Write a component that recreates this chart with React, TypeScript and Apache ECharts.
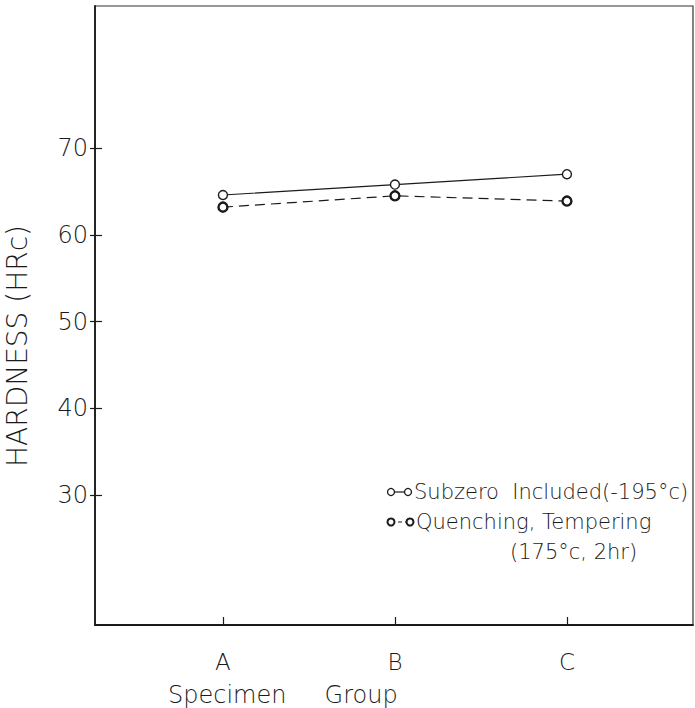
import React, { useEffect, useRef } from "react";
import * as echarts from "echarts";

// ---- data ----
const categories = ["A", "B", "C"];
const subzeroValues = [64.6, 65.8, 67.0];
const quenchingValues = [63.2, 64.5, 63.9];
const yTickValues = [30, 40, 50, 60, 70];
const seriesNames = ["Subzero  Included(-195°c)", "Quenching, Tempering"];
const legendSubLine = "(175°c, 2hr)";
const yAxisTitle = "HARDNESS (HRc)";
const xAxisTitle = "Specimen     Group";

const FONT = "DejaVu Sans";
const INK = "#1a1a1a";

export default function App() {
  const ref = useRef<HTMLDivElement>(null);

  useEffect(() => {
    if (!ref.current) return;
    const chart = echarts.init(ref.current, undefined, { renderer: "svg" });
    const xIdx = categories.map((_, i) => i);

    const option: any = {
      animation: false,
      backgroundColor: "#ffffff",
      textStyle: { fontFamily: FONT, color: INK },
      grid: {
        left: 95,
        right: 2,
        top: 6,
        bottom: 83,
        show: true,
        borderColor: "#333",
        borderWidth: 1.2,
        containLabel: false,
      },
      xAxis: {
        type: "value",
        min: -0.744,
        max: 2.733,
        axisLine: { show: true, onZero: false, lineStyle: { color: INK, width: 1.8 } },
        splitLine: { show: false },
        axisTick: {
          show: true,
          inside: true,
          length: 8,
          customValues: xIdx,
          lineStyle: { color: INK, width: 1.2 },
        },
        axisLabel: {
          show: true,
          customValues: xIdx,
          margin: 25,
          fontFamily: FONT,
          fontWeight: 200,
          fontSize: 23,
          color: INK,
          formatter: (v: number) => categories[Math.round(v)] ?? "",
        },
      },
      yAxis: [
        {
          type: "value",
          min: 15,
          max: 86.4,
          position: "left",
          axisLine: { show: true, onZero: false, lineStyle: { color: INK, width: 1.8 } },
          splitLine: { show: false },
          axisTick: {
            show: true,
            inside: true,
            length: 7,
            customValues: yTickValues,
            lineStyle: { color: INK, width: 1.2 },
          },
          axisLabel: {
            show: true,
            customValues: yTickValues,
            margin: 7,
            fontFamily: FONT,
            fontWeight: 200,
            fontSize: 24,
            color: INK,
          },
        },
        {
          type: "value",
          min: 15,
          max: 86.4,
          position: "left",
          axisLine: { show: false, onZero: false },
          splitLine: { show: false },
          axisTick: {
            show: true,
            inside: false,
            length: 5,
            customValues: yTickValues,
            lineStyle: { color: INK, width: 1.2 },
          },
          axisLabel: { show: false },
        },
      ],
      series: [
        {
          name: seriesNames[0],
          type: "line",
          yAxisIndex: 0,
          data: xIdx.map((i) => [i, subzeroValues[i]]),
          symbol: "circle",
          symbolSize: 9,
          lineStyle: { color: INK, width: 1.2, type: "solid" },
          itemStyle: { color: "#ffffff", borderColor: INK, borderWidth: 1.4 },
        },
        {
          name: seriesNames[1],
          type: "line",
          yAxisIndex: 0,
          data: xIdx.map((i) => [i, quenchingValues[i]]),
          symbol: "circle",
          symbolSize: 9,
          lineStyle: { color: INK, width: 1.2, type: [10, 6] },
          itemStyle: { color: "#ffffff", borderColor: INK, borderWidth: 2.4 },
        },
      ],
      graphic: [
        {
          type: "text",
          x: 17,
          y: 346,
          rotation: Math.PI / 2,
          style: {
            text: yAxisTitle,
            fontFamily: FONT,
            fontWeight: 200,
            fontSize: 28,
            fill: INK,
            align: "center",
            verticalAlign: "middle",
          },
        },
        {
          type: "text",
          x: 168,
          y: 695,
          style: {
            text: xAxisTitle,
            fontFamily: FONT,
            fontWeight: 200,
            fontSize: 24,
            fill: INK,
            align: "left",
            verticalAlign: "middle",
          },
        },
        // legend entry 1
        {
          type: "line",
          shape: { x1: 391, y1: 492, x2: 408, y2: 492 },
          style: { stroke: INK, lineWidth: 1.2 },
        },
        {
          type: "circle",
          shape: { cx: 391, cy: 492, r: 3.5 },
          style: { fill: "#fff", stroke: INK, lineWidth: 1.3 },
        },
        {
          type: "circle",
          shape: { cx: 408, cy: 492, r: 3.5 },
          style: { fill: "#fff", stroke: INK, lineWidth: 1.3 },
        },
        {
          type: "text",
          x: 414,
          y: 492,
          style: {
            text: seriesNames[0],
            fontFamily: FONT,
            fontWeight: 200,
            fontSize: 21,
            fill: INK,
            align: "left",
            verticalAlign: "middle",
          },
        },
        // legend entry 2
        {
          type: "line",
          shape: { x1: 391, y1: 522, x2: 410, y2: 522 },
          style: { stroke: INK, lineWidth: 1.2, lineDash: [4, 3] },
        },
        {
          type: "circle",
          shape: { cx: 391, cy: 522, r: 3.5 },
          style: { fill: "#fff", stroke: INK, lineWidth: 2 },
        },
        {
          type: "circle",
          shape: { cx: 410, cy: 522, r: 3.5 },
          style: { fill: "#fff", stroke: INK, lineWidth: 2 },
        },
        {
          type: "text",
          x: 416,
          y: 522,
          style: {
            text: seriesNames[1],
            fontFamily: FONT,
            fontWeight: 200,
            fontSize: 21,
            fill: INK,
            align: "left",
            verticalAlign: "middle",
          },
        },
        {
          type: "text",
          x: 510,
          y: 552,
          style: {
            text: legendSubLine,
            fontFamily: FONT,
            fontWeight: 200,
            fontSize: 21,
            fill: INK,
            align: "left",
            verticalAlign: "middle",
          },
        },
      ],
    };

    chart.setOption(option);
    return () => chart.dispose();
  }, []);

  return (
    <div
      ref={ref}
      style={{ position: "fixed", left: 0, top: 0, width: 695, height: 708, background: "#fff" }}
    />
  );
}
